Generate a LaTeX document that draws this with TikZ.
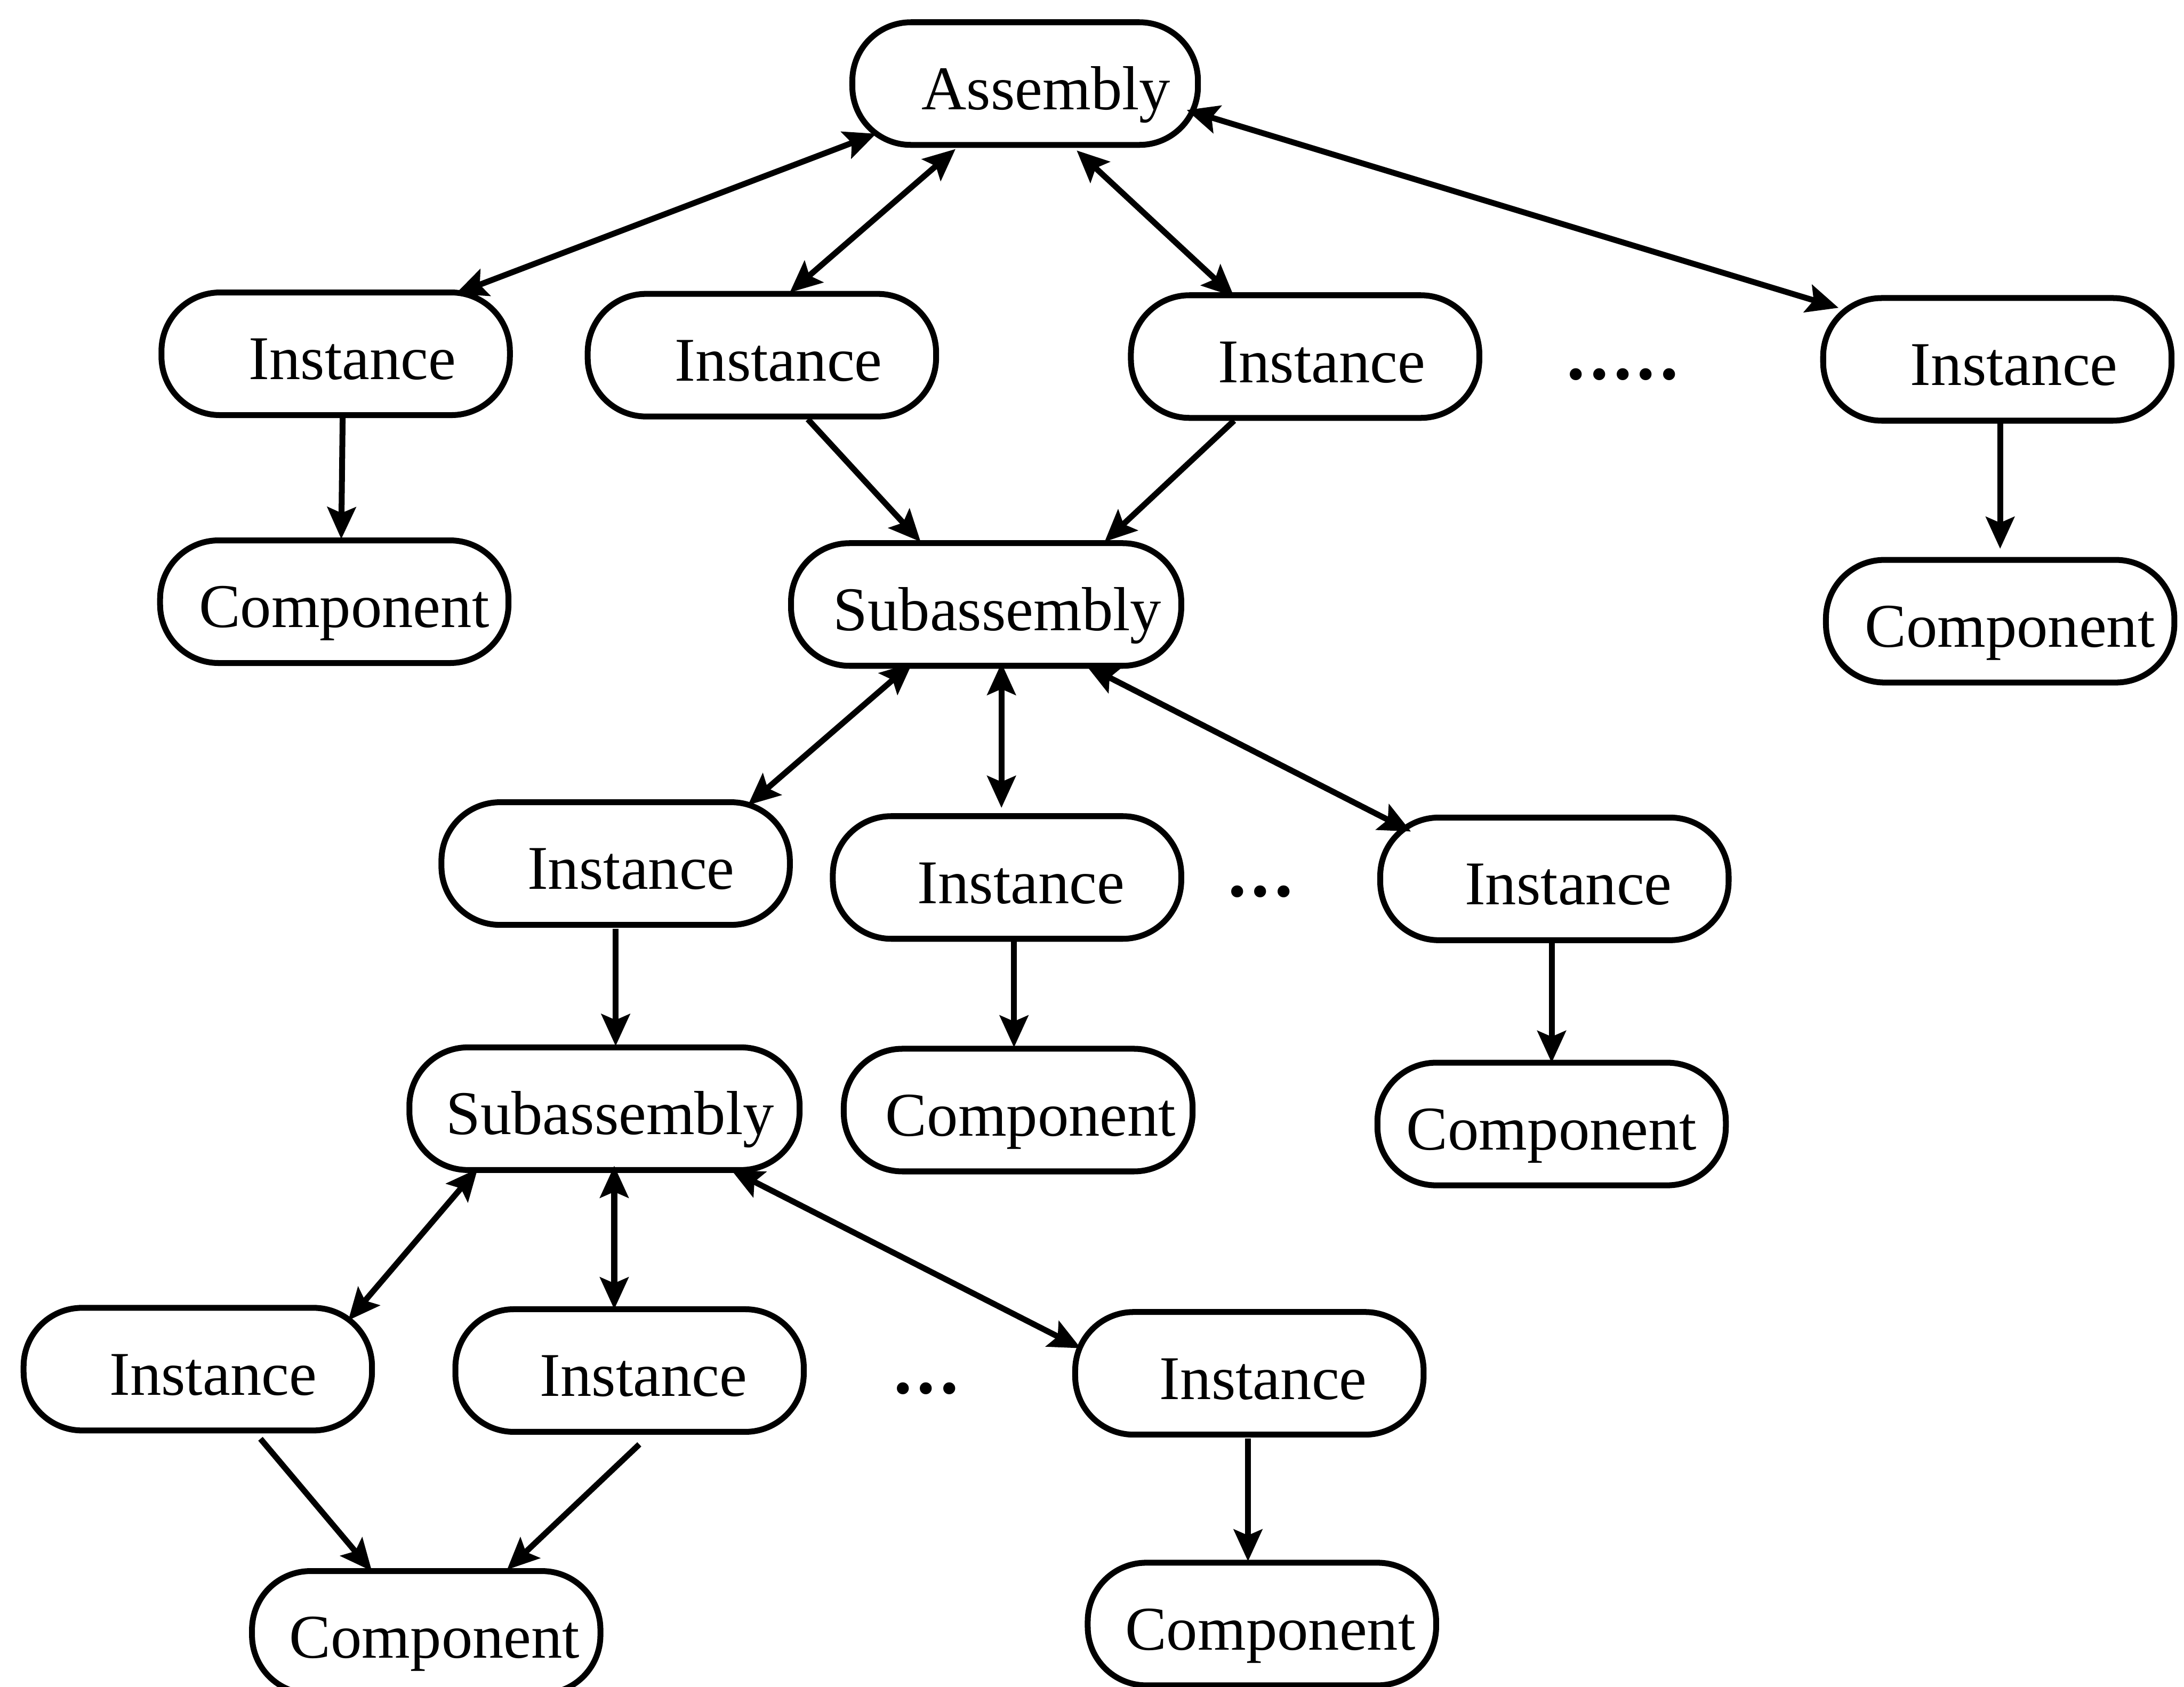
\documentclass[tikz,border=0pt]{standalone}
\usepackage{fontspec}
\setmainfont{Liberation Serif}
\usetikzlibrary{arrows.meta}
\begin{document}
\begin{tikzpicture}[x=0.01cm, y=-0.01cm,
  part/.style={draw, line width=1.2pt, rounded corners=0.42cm,
    minimum height=0.88cm, minimum width=2.5cm, inner xsep=0.12cm,
    text height=0.37cm, text depth=0cm,
    font=\fontsize{12.7}{15}\selectfont},
  wide/.style={part, minimum width=2.8cm},
  link/.style={line width=1.2pt, -{Stealth[length=6.5pt,width=5.8pt,inset=1.2pt]}},
  both/.style={line width=1.2pt, {Stealth[length=6.5pt,width=5.8pt,inset=1.2pt]}-{Stealth[length=6.5pt,width=5.8pt,inset=1.2pt]}},
  ellip/.style={font=\fontsize{15}{15}\bfseries}]
\useasboundingbox (0,0) rectangle (1568,1211);

% top level
\node[part, minimum width=2.48cm] (asm) at (736,60) {\hspace{0.3cm}Assembly};
\node[part] (i1) at (241,254) {\hspace{0.24cm}Instance};
\node[part] (i2) at (547,255) {\hspace{0.24cm}Instance};
\node[part] (i3) at (937,256) {\hspace{0.24cm}Instance};
\node[ellip] (d1) at (1165,269) {.\kern1pt.\kern1pt.\kern1pt.\kern1pt.};
\node[part] (i4) at (1434,258) {\hspace{0.24cm}Instance};

\node[part] (c1) at (240,432) {\hspace{0.14cm}Component};
\node[wide] (s1) at (708,434) {\hspace{0.16cm}Subassembly};
\node[part] (c4) at (1436,446) {\hspace{0.14cm}Component};

% second level
\node[part] (i5) at (442,620) {\hspace{0.22cm}Instance};
\node[part] (i6) at (723,630) {\hspace{0.2cm}Instance};
\node[ellip] (d2) at (905,640) {.\kern1pt.\kern1pt.};
\node[part] (i7) at (1116,631) {\hspace{0.2cm}Instance};

\node[wide] (s2) at (434,796) {\hspace{0.08cm}Subassembly};
\node[part] (c5) at (731,797) {\hspace{0.18cm}Component};
\node[part] (c6) at (1114,807) {Component};

% third level
\node[part] (i8) at (142,983) {\hspace{0.22cm}Instance};
\node[part] (i9) at (452,984) {\hspace{0.2cm}Instance};
\node[ellip] (d3) at (665,997) {.\kern1pt.\kern1pt.};
\node[part] (i10) at (897,986) {\hspace{0.2cm}Instance};

\node[part] (c7) at (306,1172) {\hspace{0.12cm}Component};
\node[part] (c8) at (906,1166) {\hspace{0.12cm}Component};

% assembly to its instances
\draw[both] ([shift={(-107,36)}]asm.center) -- ([shift={(86,-43)}]i1.center);
\draw[both] ([shift={(-50,47)}]asm.center) -- ([shift={(20,-45)}]i2.center);
\draw[both] ([shift={(37,48)}]asm.center) -- ([shift={(-51,-43)}]i3.center);
\draw[both] ([shift={(116,19)}]asm.center) -- ([shift={(-114,-37)}]i4.center);

\draw[link] ([shift={(5,46)}]i1.center) -- ([shift={(5,-45)}]c1.center);
\draw[link] ([shift={(33,46)}]i2.center) -- ([shift={(-47,-45)}]s1.center);
\draw[link] ([shift={(-51,46)}]i3.center) -- ([shift={(85,-45)}]s1.center);
\draw[link] ([shift={(2,46)}]i4.center) -- ([shift={(0,-52)}]c4.center);

% first subassembly
\draw[both] ([shift={(-53,42)}]s1.center) -- ([shift={(95,-42)}]i5.center);
\draw[both] ([shift={(11,42)}]s1.center) -- ([shift={(-4,-50)}]i6.center);
\draw[both] ([shift={(72,44)}]s1.center) -- ([shift={(-103,-34)}]i7.center);

\draw[link] ([shift={(0,47)}]i5.center) -- ([shift={(8,-45)}]s2.center);
\draw[link] ([shift={(5,46)}]i6.center) -- ([shift={(-3,-45)}]c5.center);
\draw[link] ([shift={(-2,46)}]i7.center) -- ([shift={(0,-44)}]c6.center);

% second subassembly
\draw[both] ([shift={(-91,43)}]s2.center) -- ([shift={(108,-35)}]i8.center);
\draw[both] ([shift={(7,41)}]s2.center) -- ([shift={(-11,-44)}]i9.center);
\draw[both] ([shift={(91,44)}]s2.center) -- ([shift={(-121,-18)}]i10.center);

\draw[link] ([shift={(45,50)}]i8.center) -- ([shift={(-39,-44)}]c7.center);
\draw[link] ([shift={(7,53)}]i9.center) -- ([shift={(58,-45)}]c7.center);
\draw[link] ([shift={(-1,47)}]i10.center) -- ([shift={(-10,-45)}]c8.center);
\end{tikzpicture}
\end{document}
